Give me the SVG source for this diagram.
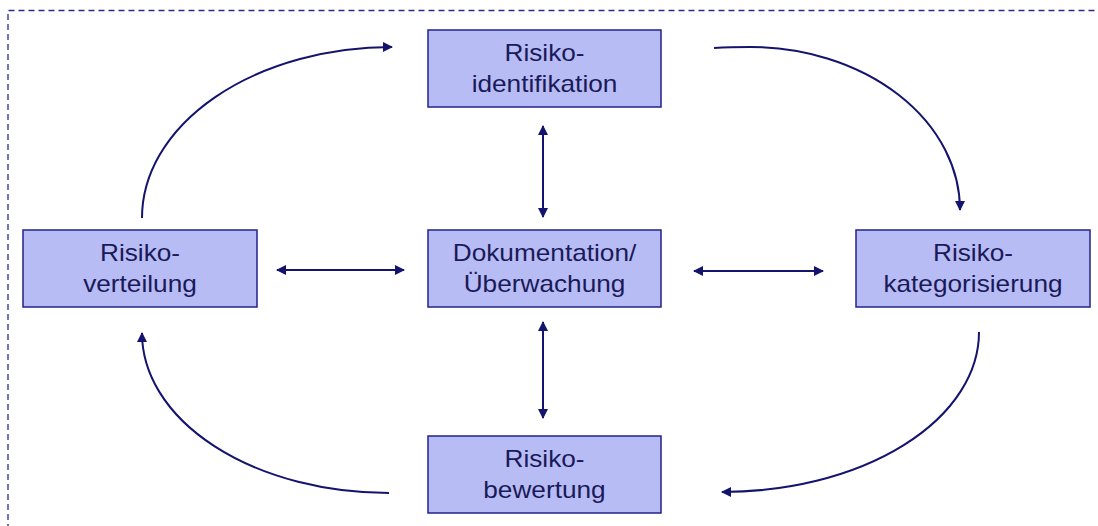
<svg xmlns="http://www.w3.org/2000/svg" width="1098" height="526" viewBox="0 0 1098 526">
<style>
.box{fill:#b8bcf4;stroke:#22228a;stroke-width:1.5}
.lbl{font-family:"Liberation Sans",Arial,sans-serif;font-size:23px;fill:#1a1a5a;text-anchor:middle}
.con{fill:none;stroke:#14146e;stroke-width:2}
.frame{fill:none;stroke:#2a2a8e;stroke-width:1.3;stroke-dasharray:6 4}
</style>
<defs>
<marker id="ah" viewBox="0 0 10 10" refX="9" refY="5" markerWidth="5" markerHeight="5" orient="auto-start-reverse" markerUnits="strokeWidth">
<path d="M0,0 L10,5 L0,10 z" fill="#14146e"/>
</marker>
</defs>
<rect width="1098" height="526" fill="#fff"/>
<path class="frame" d="M8,530 L8,10.5 L1098,10.5"/>
<g id="connectors">
<line class="con" x1="543" y1="126" x2="543" y2="217" marker-start="url(#ah)" marker-end="url(#ah)"/>
<line class="con" x1="543" y1="322" x2="543" y2="418" marker-start="url(#ah)" marker-end="url(#ah)"/>
<line class="con" x1="277" y1="270" x2="404" y2="270" marker-start="url(#ah)" marker-end="url(#ah)"/>
<line class="con" x1="694" y1="271" x2="823" y2="271" marker-start="url(#ah)" marker-end="url(#ah)"/>
<path class="con" d="M142,218 A250,171 0 0 1 392,47" marker-end="url(#ah)"/>
<path class="con" d="M714,48 Q730,47 750,47 A210,163 0 0 1 960,210" marker-end="url(#ah)"/>
<path class="con" d="M979,332 A257,160 0 0 1 722,492" marker-end="url(#ah)"/>
<path class="con" d="M389,493 A247,160 0 0 1 142,333" marker-end="url(#ah)"/>
</g>
<g id="identifikation">
<rect class="box" x="428" y="30" width="233" height="77"/>
<text class="lbl" transform="translate(544.5,61) scale(1.14,1)">Risiko-</text>
<text class="lbl" transform="translate(544.5,92) scale(1.14,1)">identifikation</text>
</g>
<g id="dokumentation">
<rect class="box" x="428" y="230" width="233" height="77"/>
<text class="lbl" transform="translate(544.5,261) scale(1.14,1)">Dokumentation/</text>
<text class="lbl" transform="translate(544.5,292) scale(1.14,1)">Überwachung</text>
</g>
<g id="bewertung">
<rect class="box" x="428" y="436" width="233" height="77"/>
<text class="lbl" transform="translate(544.5,467) scale(1.14,1)">Risiko-</text>
<text class="lbl" transform="translate(544.5,498) scale(1.14,1)">bewertung</text>
</g>
<g id="verteilung">
<rect class="box" x="23" y="230" width="234" height="77"/>
<text class="lbl" transform="translate(140,261) scale(1.14,1)">Risiko-</text>
<text class="lbl" transform="translate(140,292) scale(1.14,1)">verteilung</text>
</g>
<g id="kategorisierung">
<rect class="box" x="856" y="230" width="234" height="77"/>
<text class="lbl" transform="translate(973,261) scale(1.14,1)">Risiko-</text>
<text class="lbl" transform="translate(973,292) scale(1.14,1)">kategorisierung</text>
</g>
</svg>
